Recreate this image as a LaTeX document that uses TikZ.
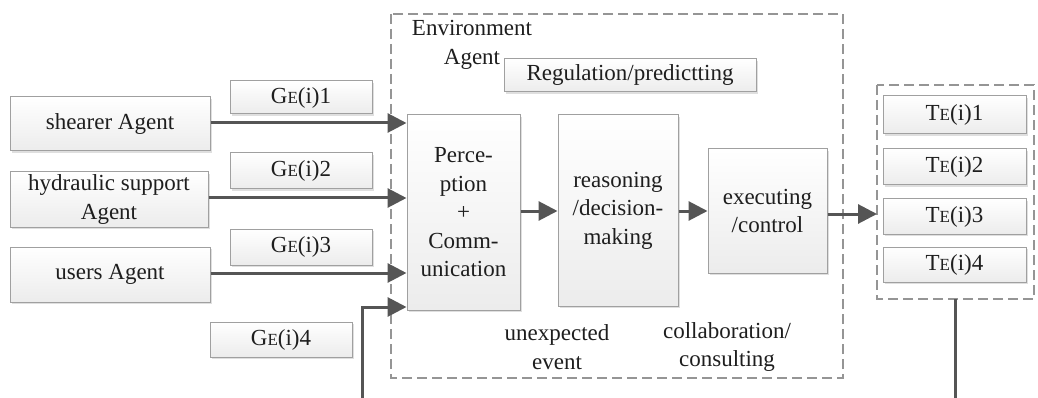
\documentclass[tikz,border=0pt]{standalone}
\usepackage{fontspec}
\setmainfont{Liberation Serif}[Ligatures=TeX]
\usetikzlibrary{arrows.meta,shadows}

\definecolor{inkgray}{HTML}{1E1E1E}
\definecolor{linegray}{HTML}{555555}
\definecolor{edgegray}{HTML}{A0A0A0}
\definecolor{dashgray}{HTML}{959595}

% subscript-style small capital used in the G/T labels
\newcommand{\smallE}{{\fontsize{17}{20}\selectfont E}}
\newcommand{\glabel}[1]{G\smallE(i)#1}
\newcommand{\tlabel}[1]{T\smallE(i)#1}

\tikzset{
  txt/.style={font=\fontsize{23}{28.5}\selectfont, text=inkgray, align=center, inner sep=0pt},
  block/.style={txt, rectangle, draw=edgegray, line width=1pt,
    top color=white, bottom color=gray!15,
    drop shadow={opacity=0.25, shadow xshift=1.8pt, shadow yshift=-1.8pt}},
  flow/.style={draw=linegray, line width=3pt,
    -{Triangle[length=19pt,width=19pt]}},
  group/.style={draw=dashgray, line width=1.3pt, dash pattern=on 10pt off 5pt}
}

\begin{document}
\begin{tikzpicture}[x=1pt,y=-1pt]
\useasboundingbox (0,0) rectangle (1038,398);

% dashed groups
\draw[group] (391,14) rectangle (843,378);
\draw[group] (877,85) rectangle (1034,299);
\coordinate (tout) at (955,299);

% source agents
\node[block, minimum width=200pt, minimum height=54pt] (shearer) at (110,124) {shearer Agent};
\node[block, minimum width=198pt, minimum height=55pt] (hydro) at (109,199.5) {hydraulic support\\Agent};
\node[block, minimum width=200pt, minimum height=55pt] (users) at (110,274.5) {users Agent};

% G labels
\node[block, minimum width=142pt, minimum height=33pt] (g1) at (301,97.5) {\glabel{1}};
\node[block, minimum width=142pt, minimum height=36pt] (g2) at (301,171) {\glabel{2}};
\node[block, minimum width=142pt, minimum height=36pt] (g3) at (301,247) {\glabel{3}};
\node[block, minimum width=142pt, minimum height=35pt] (g4) at (281,339.5) {\glabel{4}};

% environment agent internals
\node[txt] (envlbl) at (472,45) {Environment\\Agent};
\node[block, minimum width=252pt, minimum height=33pt] (reg) at (630,75.5) {Regulation/predictting};
\node[block, minimum width=113pt, minimum height=195pt] (perc) at (463.5,212.5) {Perce-\\ption\\+\\Comm-\\unication};
\node[block, minimum width=120pt, minimum height=191pt] (reas) at (618,210.5) {reasoning\\/decision-\\making};
\node[block, minimum width=119pt, minimum height=124pt] (exec) at (767.5,211) {executing\\/control};
\node[txt] (unexp) at (557,347) {unexpected\\event};
\node[txt] (collab) at (727,347) {collaboration/\\consulting};

% T outputs
\node[block, minimum width=143pt, minimum height=38pt] (t1) at (954.5,115) {\tlabel{1}};
\node[block, minimum width=143pt, minimum height=36pt] (t2) at (954.5,167) {\tlabel{2}};
\node[block, minimum width=143pt, minimum height=35pt] (t3) at (954.5,216.5) {\tlabel{3}};
\node[block, minimum width=143pt, minimum height=35pt] (t4) at (954.5,264.5) {\tlabel{4}};

% inputs into perception
\draw[flow] (shearer.east |- 0,123) -- (perc.west |- 0,123);
\draw[flow] (hydro.east |- 0,198) -- (perc.west |- 0,198);
\draw[flow] (users.east |- 0,273) -- (perc.west |- 0,273);

% processing chain
\draw[flow] (perc.east |- 0,211) -- (reas.west |- 0,211);
\draw[flow] (reas.east |- 0,211) -- (exec.west |- 0,211);
\draw[flow] (exec.east |- 0,214) -- (877,214);

% feedback from outputs back to perception
\draw[flow] (tout) -- (955,399) -- (362,399) -- (362,307) -- (perc.west |- 0,307);
\end{tikzpicture}
\end{document}
